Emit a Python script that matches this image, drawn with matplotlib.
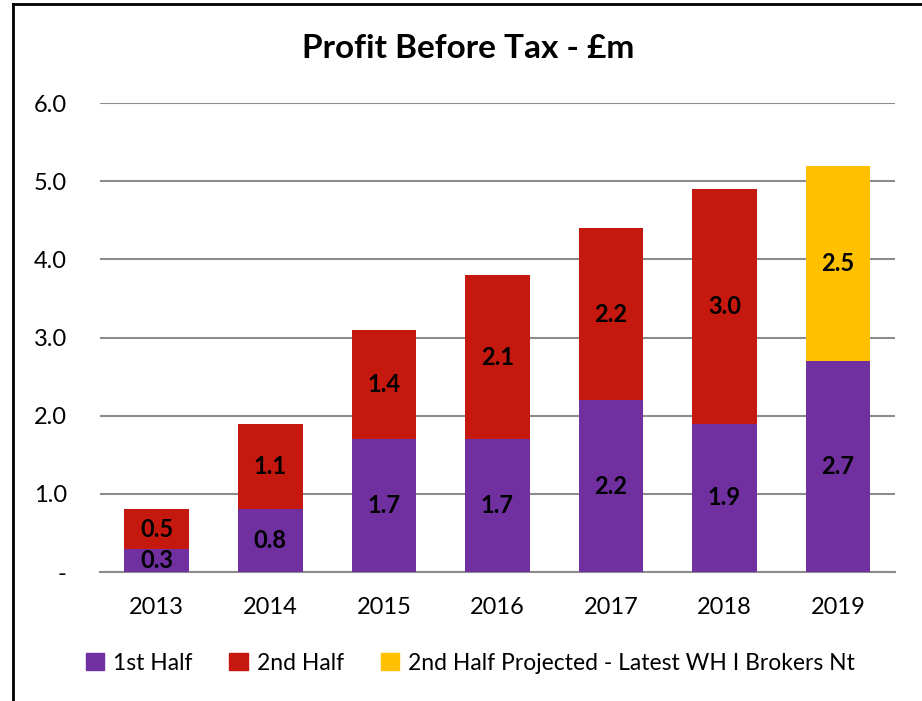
import matplotlib.pyplot as plt
from matplotlib.patches import Patch
from matplotlib.lines import Line2D

# Data
years = ['2013', '2014', '2015', '2016', '2017', '2018', '2019']
first_half = [0.3, 0.8, 1.7, 1.7, 2.2, 1.9, 2.7]
second_half = [0.5, 1.1, 1.4, 2.1, 2.2, 3.0, 0.0]
second_projected = [0.0, 0.0, 0.0, 0.0, 0.0, 0.0, 2.5]
y_ticks = [0, 1, 2, 3, 4, 5, 6]
y_labels = ['-', '1.0', '2.0', '3.0', '4.0', '5.0', '6.0']

purple = '#7030A0'
red = '#C5180E'
yellow = '#FFC000'

plt.rcParams['font.family'] = ['Lato', 'DejaVu Sans']

fig = plt.figure(figsize=(9.22, 7.01), dpi=100)
ax = fig.add_axes([0.1085, 0.184, 0.862, 0.669])

x = range(len(years))
w = 0.57
b1 = ax.bar(x, first_half, w, color=purple, zorder=3)
b2 = ax.bar(x, second_half, w, bottom=first_half, color=red, zorder=3)
b3 = ax.bar(x, second_projected, w, bottom=first_half, color=yellow, zorder=3)

for bars, vals, bottoms in [(b1, first_half, [0] * 7), (b2, second_half, first_half),
                            (b3, second_projected, first_half)]:
    for rect, v, b in zip(bars, vals, bottoms):
        if v > 0:
            ax.text(rect.get_x() + rect.get_width() / 2, b + v / 2, f'{v:.1f}',
                    ha='center', va='center', fontsize=17, fontweight='bold', zorder=4)

ax.set_xlim(-0.5, len(years) - 0.5)
ax.set_ylim(0, 6)
ax.set_yticks(y_ticks)
ax.set_yticklabels(y_labels, fontsize=17)
ax.set_xticks(list(x))
ax.set_xticklabels(years, fontsize=17)
ax.tick_params(axis='both', length=0)
ax.tick_params(axis='y', pad=24)
ax.tick_params(axis='x', pad=18)
ax.yaxis.grid(True, color='#8c8c8c', linewidth=1.5, zorder=0)
for s in ['top', 'right', 'left']:
    ax.spines[s].set_visible(False)
ax.spines['bottom'].set_color('#8c8c8c')
ax.spines['bottom'].set_linewidth(1.5)

fig.text(0.508, 0.931, 'Profit Before Tax - £m', ha='center', va='center',
         fontsize=24, fontweight='bold')

handles = [Patch(color=purple, label='1st Half'),
           Patch(color=red, label='2nd Half'),
           Patch(color=yellow, label='2nd Half Projected - Latest WH I Brokers Nt')]
fig.legend(handles=handles, loc='center', bbox_to_anchor=(0.51, 0.054), ncol=3,
           frameon=False, fontsize=16.5, handlelength=0.8, handleheight=0.8,
           handletextpad=0.4, columnspacing=1.6)

# chart border (top and left edges visible)
fig.add_artist(Line2D([13 / 922, 1.0], [1 - 4 / 701, 1 - 4 / 701], color='black', linewidth=2))
fig.add_artist(Line2D([13 / 922, 13 / 922], [0, 1 - 4 / 701], color='black', linewidth=2))

fig.savefig('out.png', dpi=100)
